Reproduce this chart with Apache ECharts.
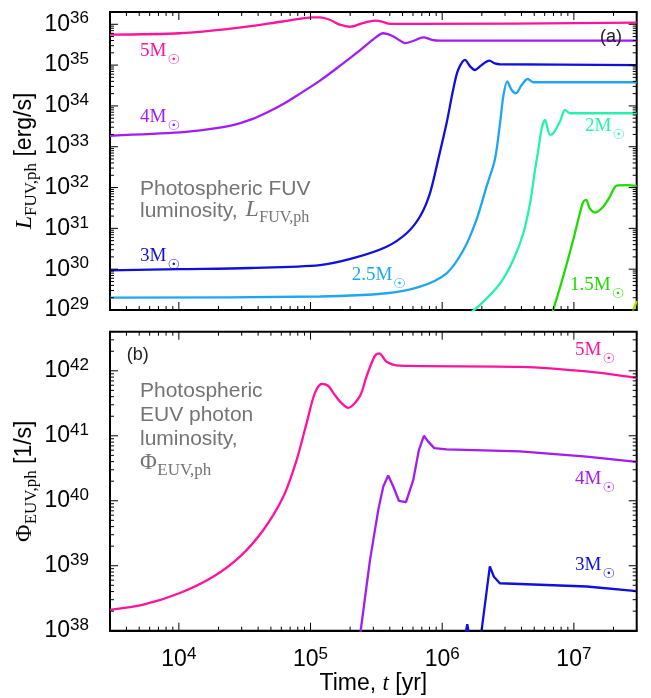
<!DOCTYPE html>
<html><head><meta charset="utf-8">
<script src="https://cdn.jsdelivr.net/npm/echarts@6/dist/echarts.min.js"></script>
<style>html,body{margin:0;padding:0;background:#fff}#c{width:651px;height:698px}</style>
</head><body><div id="c"></div>
<script>
// ---------- Panel (a): photospheric FUV luminosity [erg/s] vs time [yr] ----------
const fuv5_t  = [3.0e3, 1.02e4, 2.58e4, 6.18e4, 1.04e5, 1.18e5, 1.40e5, 1.67e5, 1.99e5, 2.50e5, 3.08e5, 3.48e5, 4.01e5, 6.78e5, 3.0e7];
const fuv5_L  = [5.60e35, 6.03e35, 7.94e35, 1.17e36, 1.48e36, 1.48e36, 1.29e36, 9.77e35, 8.71e35, 1.07e36, 1.23e36, 1.17e36, 1.02e36, 1.02e36, 1.10e36];
const fuv4_t  = [3.0e3, 1.02e4, 1.70e4, 2.58e4, 3.55e4, 4.67e4, 6.31e4, 8.32e4, 1.18e5, 1.67e5, 2.37e5, 3.08e5, 3.56e5, 4.15e5, 4.78e5, 5.21e5, 6.0e5, 7.18e5, 8.36e5, 9.61e5, 3.0e7];
const fuv4_L  = [1.86e33, 2.24e33, 2.69e33, 3.39e33, 4.68e33, 6.92e33, 1.15e34, 2.00e34, 4.17e34, 9.55e34, 2.29e35, 4.57e35, 6.03e35, 5.25e35, 3.98e35, 3.47e35, 3.89e35, 4.79e35, 4.17e35, 3.98e35, 3.98e35];
const fuv3_t  = [3.0e3, 1.02e4, 3.47e4, 1.18e5, 2.11e5, 3.78e5, 5.37e5, 6.78e5, 8.07e5, 9.33e5, 1.08e6, 1.21e6, 1.32e6, 1.49e6, 1.63e6, 1.77e6, 1.99e6, 2.28e6, 2.51e6, 2.74e6, 3.0e7];
const fuv3_L  = [9.33e29, 1.0e30, 1.07e30, 1.26e30, 1.86e30, 3.55e30, 7.59e30, 1.95e31, 7.24e31, 4.90e32, 3.80e33, 2.45e34, 7.59e34, 1.35e35, 9.33e34, 7.59e34, 1.0e35, 1.29e35, 1.10e35, 1.05e35, 1.0e35];
const fuv25_t = [3.0e3, 1.18e5, 3.78e5, 6.78e5, 1.08e6, 1.45e6, 1.82e6, 2.17e6, 2.51e6, 2.75e6, 2.91e6, 3.12e6, 3.37e6, 3.63e6, 4.01e6, 4.46e6, 4.91e6, 3.0e7];
const fuv25_L = [2.0e29, 2.14e29, 2.57e29, 3.72e29, 7.94e29, 2.95e30, 1.62e31, 1.05e32, 4.79e32, 3.80e33, 1.70e34, 3.98e34, 2.45e34, 2.04e34, 3.24e34, 4.57e34, 3.80e34, 3.80e34];
const fuv2_t  = [1.51e6, 1.93e6, 2.75e6, 3.47e6, 4.13e6, 4.65e6, 5.07e6, 5.37e6, 5.70e6, 6.04e6, 6.59e6, 6.98e6, 7.85e6, 8.57e6, 9.35e6, 3.0e7];
const fuv2_L  = [7.08e28, 1.32e29, 4.47e29, 1.70e30, 7.59e30, 4.17e31, 2.69e32, 8.32e32, 2.82e33, 4.57e33, 1.95e33, 2.14e33, 4.17e33, 7.94e33, 6.61e33, 6.61e33];
const fuv15_t = [6.75e6, 6.97e6, 8.30e6, 9.89e6, 1.11e7, 1.18e7, 1.24e7, 1.32e7, 1.45e7, 1.67e7, 1.88e7, 2.11e7, 2.52e7, 3.0e7];
const fuv15_L = [7.08e28, 1.0e29, 6.61e29, 5.25e30, 2.34e31, 4.47e31, 5.01e31, 3.09e31, 2.45e31, 3.39e31, 6.03e31, 1.12e32, 1.15e32, 1.10e32];
const fuv1_t  = [2.75e7, 3.0e7];
const fuv1_L  = [7.9e28, 1.66e29];

// ---------- Panel (b): photospheric EUV photon luminosity [1/s] vs time [yr] ----------
const euv5_t = [3.0e3, 5.37e3, 1.02e4, 1.82e4, 2.91e4, 4.38e4, 6.21e4, 7.85e4, 9.35e4, 1.08e5, 1.22e5, 1.36e5, 1.49e5, 1.67e5, 1.93e5, 2.37e5, 2.67e5, 3.08e5, 3.33e5, 3.78e5, 4.78e5, 3.89e6, 1.25e7, 3.0e7];
const euv5_Q = [2.09e38, 2.51e38, 3.80e38, 6.76e38, 1.38e39, 3.55e39, 1.15e40, 4.27e40, 1.58e41, 4.57e41, 6.31e41, 5.89e41, 4.57e41, 3.39e41, 2.69e41, 4.07e41, 8.32e41, 1.70e42, 1.86e42, 1.38e42, 1.20e42, 1.15e42, 9.77e41, 7.76e41];
const euv4_t = [2.35e5, 2.83e5, 3.27e5, 3.57e5, 3.89e5, 4.25e5, 4.69e5, 5.31e5, 6.03e5, 6.65e5, 7.26e5, 7.83e5, 8.71e5, 1.08e6, 3.89e6, 1.25e7, 3.0e7];
const euv4_Q = [7.08e37, 1.23e39, 7.24e39, 1.66e40, 2.45e40, 1.66e40, 1.0e40, 9.55e39, 2.09e40, 6.03e40, 1.0e41, 8.13e40, 6.46e40, 6.17e40, 5.75e40, 4.79e40, 3.98e40];
const euv3_t = [1.49e6, 1.55e6, 1.61e6, 1.95e6, 2.30e6, 2.47e6, 2.74e6, 1.25e7, 3.0e7];
const euv3_Q = [7.94e37, 1.26e38, 7.94e37, 7.24e37, 9.77e38, 6.76e38, 5.37e38, 4.79e38, 4.07e38];

// ---------- Axis ranges and tick labels (decade exponents) ----------
const timeRange = [3e3, 3e7];
const fuvRange  = [1e29, 2e36];
const euvRange  = [1e38, 4e42];
const timeTickExp = [4, 5, 6, 7];
const fuvTickExp  = [29, 30, 31, 32, 33, 34, 35, 36];
const euvTickExp  = [38, 39, 40, 41, 42];

// ---------- helpers ----------
const SANS = '"Liberation Sans", Arial, Helvetica, sans-serif';
const SERIF = '"Liberation Serif", "Times New Roman", Times, serif';
const SYM = '"DejaVu Sans", sans-serif';
const lg = Math.log10;
const pairs = (t, v) => t.map((x, i) => [lg(x), lg(v[i])]);
function minorTicks(range) {
  const a = lg(range[0]), b = lg(range[1]), out = [];
  for (let n = Math.floor(a); n <= Math.ceil(b); n++)
    for (let k = 2; k <= 9; k++) { const v = n + lg(k); if (v >= a - 1e-9 && v <= b + 1e-9) out.push(v); }
  return out;
}
const richTick = {
  b: { fontSize: 23, fontFamily: SANS, lineHeight: 28, color: '#000' },
  s: { fontSize: 17, fontFamily: SANS, lineHeight: 12, verticalAlign: 'top', color: '#000' }
};
const tickFmt = v => '{b|10}{s|' + Math.round(v) + '}';

function axis(grid, pos, range, extra) {
  const a = {
    type: 'value', gridIndex: grid, position: pos, min: lg(range[0]), max: lg(range[1]),
    axisLine: { show: true, onZero: false, lineStyle: { color: '#000', width: 2 } },
    splitLine: { show: false }, axisTick: { show: false }, axisLabel: { show: false }
  };
  if (extra) Object.assign(a, extra);
  return a;
}

const C = { m5: '#ff139c', m4: '#a31cf0', m3: '#0f0fe0', m25: '#1ea6f5', m2: '#26f2ad', m15: '#1fdc00', m1: '#a6e400' };

const xAxes = [
  axis(0, 'bottom', timeRange),
  axis(1, 'bottom', timeRange, {
    axisLabel: { show: true, customValues: timeTickExp, margin: 15, formatter: tickFmt, rich: richTick },
    name: '{n|Time, }{i|t}{n| [yr]}', nameLocation: 'middle', nameGap: 40,
    nameTextStyle: { rich: {
      n: { fontSize: 23, fontFamily: SANS, lineHeight: 26, color: '#000' },
      i: { fontSize: 23, fontFamily: SERIF, fontStyle: 'italic', lineHeight: 26, color: '#000' } } }
  })
];
const nameRich = {
  L: { fontSize: 24, fontFamily: SERIF, fontStyle: 'italic', lineHeight: 30, color: '#000' },
  P: { fontSize: 24, fontFamily: SERIF, lineHeight: 30, color: '#000' },
  sub: { fontSize: 17, fontFamily: SERIF, lineHeight: 15, verticalAlign: 'bottom', color: '#000' },
  u: { fontSize: 23, fontFamily: SANS, lineHeight: 30, color: '#000' }
};
const yAxes = [
  axis(0, 'left', fuvRange, {
    axisLabel: { show: true, customValues: fuvTickExp, margin: 21, formatter: tickFmt, rich: richTick },
    name: '{L|L}{sub|FUV,ph}{u| [erg/s]}', nameLocation: 'middle', nameRotate: 90, nameGap: 70,
    nameMoveOverlap: false, nameTextStyle: { rich: nameRich }
  }),
  axis(1, 'left', euvRange, {
    axisLabel: { show: true, customValues: euvTickExp, margin: 21, formatter: tickFmt, rich: richTick },
    name: '{P|Φ}{sub|EUV,ph}{u| [1/s]}', nameLocation: 'middle', nameRotate: 90, nameGap: 70,
    nameMoveOverlap: false, nameTextStyle: { rich: nameRich }
  })
];

// tick marks (inside, on all four sides) drawn through the axes' own scale
function tickData(major, minor, other, dimIsX) {
  const rows = major.map(v => [v, 8]).concat(minor.map(v => [v, 4]));
  return rows.map(r => dimIsX ? [r[0], other, r[1]] : [other, r[0], r[1]]);
}
function tickSeries(panel, data, isX) {
  return {
    type: 'custom', xAxisIndex: panel, yAxisIndex: panel, data: data, silent: true, clip: false, z: 10,
    renderItem: function (params, api) {
      const p = api.coord([api.value(0), api.value(1)]);
      const cs = params.coordSys, len = api.value(2);
      const st = { stroke: '#000', lineWidth: 1 };
      if (isX) {
        const b = cs.y + cs.height, t = cs.y;
        return { type: 'group', children: [
          { type: 'line', shape: { x1: p[0], y1: b, x2: p[0], y2: b - len }, style: st },
          { type: 'line', shape: { x1: p[0], y1: t, x2: p[0], y2: t + len }, style: st } ] };
      }
      const l = cs.x, r = cs.x + cs.width;
      return { type: 'group', children: [
        { type: 'line', shape: { x1: l, y1: p[1], x2: l + len, y2: p[1] }, style: st },
        { type: 'line', shape: { x1: r, y1: p[1], x2: r - len, y2: p[1] }, style: st } ] };
    }
  };
}
const xMinor = minorTicks(timeRange);

function line(name, t, v, color, panel, smooth) {
  return {
    name, type: 'line', xAxisIndex: panel, yAxisIndex: panel, data: pairs(t, v),
    showSymbol: false, symbol: 'none', smooth: smooth, clip: true,
    lineStyle: { color, width: 2.3 }, itemStyle: { color }, silent: true
  };
}
const series = [
  tickSeries(0, tickData(timeTickExp, xMinor, lg(fuvRange[0]), true), true),
  tickSeries(0, tickData(fuvTickExp, minorTicks(fuvRange), lg(timeRange[0]), false), false),
  tickSeries(1, tickData(timeTickExp, xMinor, lg(euvRange[0]), true), true),
  tickSeries(1, tickData(euvTickExp, minorTicks(euvRange), lg(timeRange[0]), false), false),
  line('1M', fuv1_t, fuv1_L, C.m1, 0, false),
  line('1.5M', fuv15_t, fuv15_L, C.m15, 0, 0.3),
  line('2M', fuv2_t, fuv2_L, C.m2, 0, 0.3),
  line('2.5M', fuv25_t, fuv25_L, C.m25, 0, 0.3),
  line('3M', fuv3_t, fuv3_L, C.m3, 0, 0.3),
  line('4M', fuv4_t, fuv4_L, C.m4, 0, 0.3),
  line('5M', fuv5_t, fuv5_L, C.m5, 0, 0.3),
  line('3M', euv3_t, euv3_Q, C.m3, 1, false),
  line('4M', euv4_t, euv4_Q, C.m4, 1, false),
  line('5M', euv5_t, euv5_Q, C.m5, 1, 0.3)
];

// ---------- annotation text ----------
const mctx = document.createElement('canvas').getContext('2d');
function tw(text, font) { mctx.font = font; return mctx.measureText(text).width; }
function txt(x, base, text, size, family, color, italic) {
  const font = (italic ? 'italic ' : '') + size + 'px ' + family;
  return { type: 'text', x: x, y: base - 0.34 * size, z: 100,
    style: { text: text, font: font, fill: color, align: 'left', verticalAlign: 'middle' } };
}
function mass(x, base, label, color) {
  const f = '19px ' + SERIF;
  const w = tw(label, f);
  return [txt(x, base, label, 19, SERIF, color),
    { type: 'text', x: x + w + 1, y: base + 3, z: 100,
      style: { text: '☉', font: '14px ' + SYM, fill: color, align: 'left', verticalAlign: 'middle' } }];
}
const GRAY = '#747474';
const g = [];
g.push(...mass(140, 57.3, '5M', C.m5));
g.push(...mass(140, 123.3, '4M', C.m4));
g.push(...mass(140, 262.7, '3M', C.m3));
g.push(...mass(351.7, 281, '2.5M', C.m25));
g.push(...mass(585, 132.7, '2M', C.m2));
g.push(...mass(570, 291, '1.5M', C.m15));
g.push(...mass(575, 356.7, '5M', C.m5));
g.push(...mass(575, 485, '4M', C.m4));
g.push(...mass(575, 571.7, '3M', C.m3));
g.push(txt(600, 43.5, '(a)', 18, SANS, '#222'));
g.push(txt(126.7, 361, '(b)', 18, SANS, '#222'));
// panel (a) description
g.push(txt(140, 196.7, 'Photospheric FUV', 21, SANS, GRAY));
const lumW = tw('luminosity, ', '21px ' + SANS);
g.push(txt(140, 218.3, 'luminosity, ', 21, SANS, GRAY));
const Lx = 140 + lumW + 2;
g.push(txt(Lx, 218.3, 'L', 24, SERIF, GRAY, true));
g.push(txt(Lx + tw('L', 'italic 24px ' + SERIF) + 0.5, 223.3, 'FUV,ph', 16, SERIF, GRAY));
// panel (b) description
g.push(txt(140, 398.3, 'Photospheric', 21, SANS, GRAY));
g.push(txt(140, 422.5, 'EUV photon', 21, SANS, GRAY));
g.push(txt(140, 446.5, 'luminosity,', 21, SANS, GRAY));
g.push(txt(140, 471, 'Φ', 23, SERIF, GRAY));
g.push(txt(140 + tw('Φ', '23px ' + SERIF) + 0.5, 476, 'EUV,ph', 17, SERIF, GRAY));

const chart = echarts.init(document.getElementById('c'), null, { renderer: 'canvas' });
chart.setOption({
  animation: false,
  backgroundColor: '#fff',
  grid: [
    { left: 110, top: 12, width: 526.7, height: 298, show: true, borderColor: '#000', borderWidth: 2, backgroundColor: 'transparent', containLabel: false, outerBoundsMode: 'none' },
    { left: 110, top: 331.7, width: 526.7, height: 299, show: true, borderColor: '#000', borderWidth: 2, backgroundColor: 'transparent', containLabel: false, outerBoundsMode: 'none' }
  ],
  xAxis: xAxes,
  yAxis: yAxes,
  series: series,
  graphic: g
});
</script></body></html>
